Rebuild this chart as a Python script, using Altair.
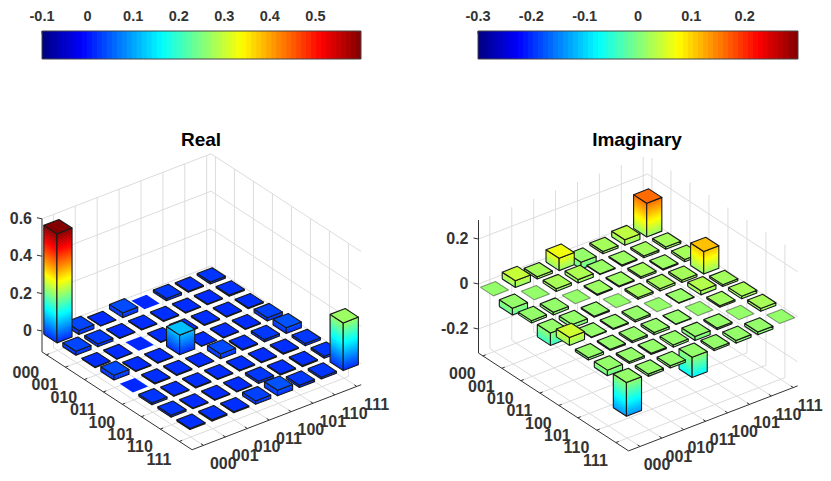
import math
import pandas as pd
import altair as alt
alt.data_transformers.disable_max_rows()

STATES = ["000", "001", "010", "011", "100", "101", "110", "111"]

REAL_0 = [0.583, 0.021, 0.002, 0.025, 0.0, 0.012, 0.006, 0.010]
REAL_1 = [0.021, 0.015, 0.003, 0.004, 0.005, 0.004, 0.004, 0.007]
REAL_2 = [0.004, 0.003, 0.0, 0.003, 0.005, 0.005, 0.004, 0.005]
REAL_3 = [0.025, 0.004, 0.003, 0.105, 0.002, 0.004, 0.004, 0.018]
REAL_4 = [0.0, 0.005, 0.005, 0.002, 0.025, 0.005, 0.012, 0.030]
REAL_5 = [0.010, 0.004, 0.005, 0.004, 0.005, 0.004, 0.005, 0.012]
REAL_6 = [0.010, 0.004, 0.004, 0.004, 0.012, 0.005, 0.006, 0.010]
REAL_7 = [0.006, 0.007, 0.005, 0.018, 0.030, 0.012, 0.010, 0.255]
REAL = [REAL_0, REAL_1, REAL_2, REAL_3, REAL_4, REAL_5, REAL_6, REAL_7]

IMAG_0 = [0.0, 0.030, 0.010, 0.055, -0.030, 0.010, 0.025, 0.150]
IMAG_1 = [-0.030, 0.0, 0.012, 0.015, 0.003, 0.005, 0.008, 0.010]
IMAG_2 = [-0.010, -0.012, 0.0, 0.005, 0.004, 0.008, 0.005, 0.010]
IMAG_3 = [-0.055, -0.015, -0.005, 0.0, 0.008, 0.010, 0.010, 0.100]
IMAG_4 = [0.035, -0.003, -0.004, -0.008, 0.0, 0.002, 0.018, 0.008]
IMAG_5 = [-0.010, -0.005, -0.008, -0.010, -0.002, 0.0, 0.007, 0.012]
IMAG_6 = [-0.025, -0.008, -0.005, -0.010, -0.018, -0.007, 0.0, 0.012]
IMAG_7 = [-0.150, -0.010, -0.010, -0.090, -0.008, -0.012, -0.012, 0.0]
IMAG = [IMAG_0, IMAG_1, IMAG_2, IMAG_3, IMAG_4, IMAG_5, IMAG_6, IMAG_7]

REAL_CBAR_TICKS = [-0.1, 0, 0.1, 0.2, 0.3, 0.4, 0.5]
IMAG_CBAR_TICKS = [-0.3, -0.2, -0.1, 0, 0.1, 0.2]
REAL_Z_TICKS = [0, 0.2, 0.4, 0.6]
IMAG_Z_TICKS = [-0.2, 0, 0.2]

# one step along each floor axis, in pixels
A = (19.0, 12.38)
B = (21.9, -8.42)
BAR = 0.69
TICK_I = 0.23
TICK_J = 0.52
BAR_I = 0.55
BAR_J = 0.25
SPAN_I = 7.9
SPAN_J = 7.72
# bars sit a little warmer on the colour map than the colour bar
COLOR_SHIFT = 0.02

PANELS = [
    dict(title="Real", rows=REAL, x0=42.0, y0=331.0, zpx=187.0, zmin=-0.112, ztop=0.6,
         cmin=-0.1, cmax=0.6, cx=(42.0, 361.0), cticks=REAL_CBAR_TICKS, zticks=REAL_Z_TICKS,
         tx=201, flat=0.0, jdx=19.8),
    dict(title="Imaginary", rows=IMAG, x0=478.5, y0=284.0, zpx=225.0, zmin=-0.307, ztop=0.284,
         cmin=-0.3, cmax=0.3, cx=(478.0, 798.0), cticks=IMAG_CBAR_TICKS, zticks=IMAG_Z_TICKS,
         tx=637, flat=0.45, jdx=17.0),
]


def project(p, u, v, z):
    return (p["x0"] + u * A[0] + v * B[0],
            p["y0"] + u * A[1] + v * B[1] - z * p["zpx"])


def fmt(v):
    return "0" if v == 0 else f"{v:g}"


polys, grid, axes, texts, ztexts, bands, boxes = [], [], [], [], [], [], []
poly_id = 0


def add_poly(corners, frac, fill_op, stroke_op):
    global poly_id
    poly_id += 1
    for k, (x, y) in enumerate(corners + corners[:1]):
        polys.append(dict(poly=poly_id, k=k, x=x, y=y, frac=frac, fo=fill_op, so=stroke_op))


def seg(target, p, a, b):
    x, y = project(p, *a)
    x2, y2 = project(p, *b)
    target.append(dict(x=x, y=y, x2=x2, y2=y2))


for p in PANELS:
    zmin, ztop = p["zmin"], p["ztop"]
    frac = lambda z: max(0.0, min(1.0, (z - p["cmin"]) / (p["cmax"] - p["cmin"]) + COLOR_SHIFT))

    # walls and floor
    for i in range(8):
        u = i + TICK_I
        seg(grid, p, (u, 0, zmin), (u, SPAN_J, zmin))
        seg(grid, p, (u, SPAN_J, zmin), (u, SPAN_J, ztop))
    for j in range(8):
        v = j + TICK_J
        seg(grid, p, (0, v, zmin), (SPAN_I, v, zmin))
        seg(grid, p, (0, v, zmin), (0, v, ztop))
    for z in p["zticks"]:
        seg(grid, p, (0, 0, z), (0, SPAN_J, z))
        seg(grid, p, (0, SPAN_J, z), (SPAN_I, SPAN_J, z))

    # axes
    seg(axes, p, (0, 0, zmin), (0, 0, ztop))
    seg(axes, p, (0, 0, zmin), (SPAN_I, 0, zmin))
    seg(axes, p, (SPAN_I, 0, zmin), (SPAN_I, SPAN_J, zmin))
    for i, s in enumerate(STATES):
        u = i + TICK_I
        seg(axes, p, (u, 0, zmin), (u, 0.13, zmin))
        x, y = project(p, u, 0, zmin)
        texts.append(dict(x=x - 20.5, y=y + 18.2, t=s, size=16, c="#333333"))
    for j, s in enumerate(STATES):
        v = j + TICK_J
        seg(axes, p, (SPAN_I, v, zmin), (SPAN_I - 0.13, v, zmin))
        x, y = project(p, SPAN_I, v, zmin)
        texts.append(dict(x=x + p["jdx"], y=y + 18.7, t=s, size=16, c="#333333"))
    for z in p["zticks"]:
        seg(axes, p, (0, 0, z), (-0.15, -0.1, z))
        x, y = project(p, 0, 0, z)
        ztexts.append(dict(x=x - 10, y=y, t=fmt(z), size=16, c="#333333"))

    # bars, back to front
    cells = sorted(((i, j) for i in range(8) for j in range(8)), key=lambda c: c[0] - c[1])
    h = BAR / 2
    for i, j in cells:
        val = p["rows"][i][j]
        u, v = i + BAR_I, j + BAR_J
        low, high = min(val, 0.0), max(val, 0.0)
        if val != 0:
            faces = [((u - h, v - h), (u + h, v - h)), ((u + h, v - h), (u + h, v + h))]
            for (u1, v1), (u2, v2) in faces:
                n = max(1, math.ceil((high - low) * p["zpx"] / 1.5))
                dz = (high - low) / n
                for s in range(n):
                    z1, z2 = low + s * dz, min(high, low + (s + 1.4) * dz)
                    c = [project(p, u1, v1, z1), project(p, u2, v2, z1),
                         project(p, u2, v2, z2), project(p, u1, v1, z2)]
                    add_poly(c, frac(low + (s + 0.5) * dz), 1, 0)
                c = [project(p, u1, v1, low), project(p, u2, v2, low),
                     project(p, u2, v2, high), project(p, u1, v1, high)]
                add_poly(c, 0.5, 0, 1)
        top = [project(p, u - h, v - h, high), project(p, u + h, v - h, high),
               project(p, u + h, v + h, high), project(p, u - h, v + h, high)]
        add_poly(top, frac(high), 1, 1 if val != 0 else p["flat"])

    # colour bar
    c0, c1 = p["cx"]
    for k in range(64):
        bands.append(dict(x=c0 + (c1 - c0) * k / 64, x2=min(c1, c0 + (c1 - c0) * (k + 1.2) / 64),
                          y=31.0, y2=59.0, frac=(k + 0.5) / 64))
    boxes.append(dict(x=c0, x2=c1, y=31.0, y2=59.0))
    for t in p["cticks"]:
        x = c0 + (c1 - c0) * (t - p["cmin"]) / (p["cmax"] - p["cmin"])
        axes.append(dict(x=x, y=31.0, x2=x, y2=34.0))
        texts.append(dict(x=x, y=16.5, t=fmt(t), size=14.5, c="#333333"))
    texts.append(dict(x=p["tx"], y=140.0, t=p["title"], size=19, c="#000000"))

X = alt.X("x:Q", scale=alt.Scale(domain=[8, 823], nice=False, zero=False), axis=None)
Y = alt.Y("y:Q", scale=alt.Scale(domain=[473, 8], nice=False, zero=False), axis=None)
JET = alt.Scale(domain=[0, 0.125, 0.375, 0.625, 0.875, 1],
                range=["#000080", "#0000ff", "#00ffff", "#ffff00", "#ff0000", "#800000"],
                interpolate="rgb")

grid_layer = alt.Chart(pd.DataFrame(grid)).mark_rule(color="#dcdcdc", strokeWidth=1).encode(
    x=X, y=Y, x2="x2:Q", y2="y2:Q"
)
axes_layer = alt.Chart(pd.DataFrame(axes)).mark_rule(color="#333333", strokeWidth=1).encode(
    x=X, y=Y, x2="x2:Q", y2="y2:Q"
)
bars_layer = alt.Chart(pd.DataFrame(polys)).mark_line(
    stroke="#1a1a1a", strokeWidth=1.1, strokeJoin="round", clip=False
).encode(
    x=X,
    y=Y,
    order=alt.Order("k:Q"),
    detail="poly:N",
    fill=alt.Fill("frac:Q", scale=JET, legend=None),
    fillOpacity=alt.FillOpacity("fo:Q", scale=None),
    strokeOpacity=alt.StrokeOpacity("so:Q", scale=None),
)
band_layer = alt.Chart(pd.DataFrame(bands)).mark_rect().encode(
    x=X, y=Y, x2="x2:Q", y2="y2:Q",
    fill=alt.Fill("frac:Q", scale=JET, legend=None),
)
box_layer = alt.Chart(pd.DataFrame(boxes)).mark_rect(
    fillOpacity=0, stroke="#444444", strokeWidth=1
).encode(x=X, y=Y, x2="x2:Q", y2="y2:Q")


def text_marks(rows, align):
    return alt.Chart(pd.DataFrame(rows)).mark_text(
        font="Liberation Sans", fontWeight="bold", align=align, baseline="middle"
    ).encode(
        x=X, y=Y, text="t:N",
        size=alt.Size("size:Q", scale=None),
        color=alt.Color("c:N", scale=None),
    )


chart = alt.layer(
    grid_layer, axes_layer, bars_layer, band_layer, box_layer,
    text_marks(texts, "center"), text_marks(ztexts, "right")
).properties(
    width=815, height=465, padding=0, autosize=alt.AutoSizeParams(type="none")
).configure_view(stroke=None)

chart.save("out.html", embed_options={"renderer": "svg", "actions": False})
